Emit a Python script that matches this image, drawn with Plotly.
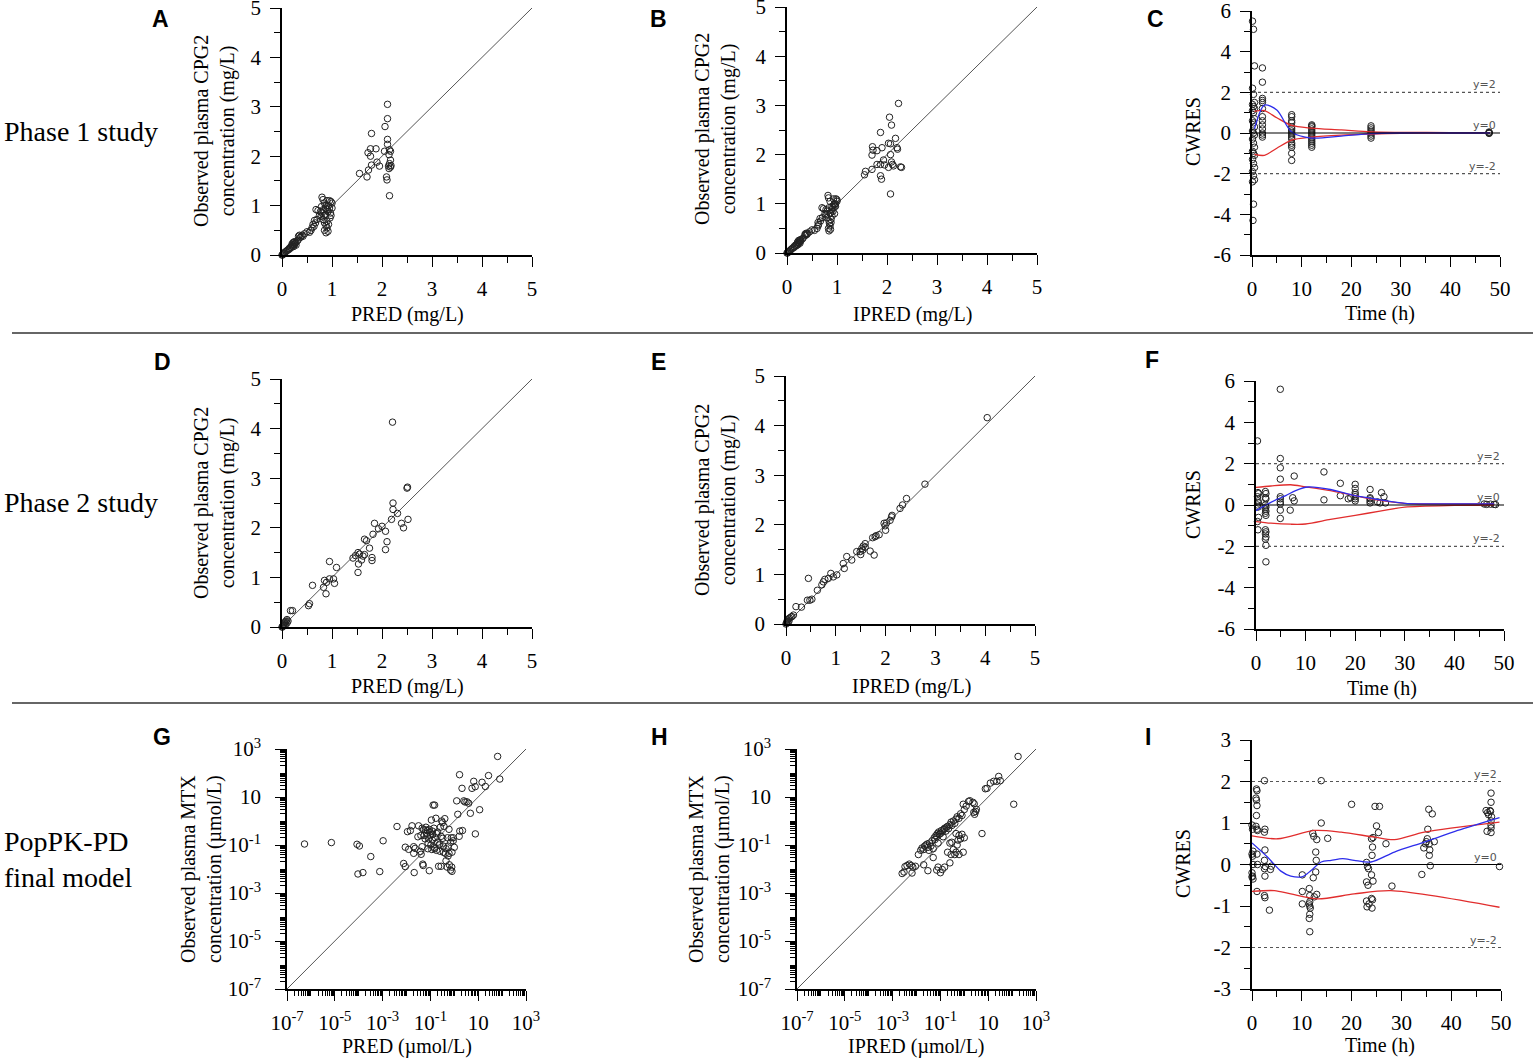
import plotly.graph_objects as go

W, H = 1535, 1062

# ---------------- DATA ----------------
# Panel A: Phase 1, PRED vs observed CPG2 (mg/L)
pred_A = [0.0,0.01,0.02,0.03,0.04,0.05,0.06,0.08,0.1,0.12,0.14,0.15,0.17,0.18,0.2,0.2,0.21,0.22,0.23,0.24,0.25,0.25,0.26,0.27,0.28,0.3,0.32,0.33,0.35,0.36,0.38,0.4,0.42,0.45,0.5,0.55,0.58,0.6,
          0.62,0.64,0.65,0.67,0.68,0.7,0.72,0.75,0.77,0.78,0.8,0.8,0.82,0.82,0.83,0.85,0.85,0.85,0.87,0.87,0.88,0.88,0.88,0.9,0.9,0.9,0.92,0.92,0.93,0.93,0.95,0.95,0.96,0.97,0.98,0.98,1.0,1.0,0.79,0.84,0.91,
          2.11,2.11,2.06,1.79,2.11,1.77,1.88,2.11,2.15,2.17,1.72,1.77,2.05,2.14,1.9,1.95,1.79,1.73,1.55,1.7,2.09,2.1,2.15,2.17,2.14,2.18,2.13,2.15,2.17]
obs_A = [0.0,0.0,0.02,0.02,0.04,0.03,0.06,0.07,0.09,0.1,0.13,0.12,0.16,0.15,0.22,0.18,0.2,0.25,0.17,0.26,0.21,0.27,0.23,0.25,0.2,0.28,0.3,0.38,0.4,0.35,0.37,0.4,0.38,0.43,0.47,0.46,0.5,0.55,
         0.62,0.58,0.7,0.65,0.92,0.72,0.9,0.8,0.88,0.78,1.17,0.85,1.12,0.72,0.92,1.05,0.65,0.5,0.82,0.95,0.6,0.45,1.0,1.1,0.55,0.68,0.88,0.48,1.0,0.62,1.1,0.95,0.75,0.85,0.8,1.08,1.05,0.95,0.98,0.8,0.92,
         3.05,2.76,2.6,2.46,2.34,2.15,2.15,2.24,2.13,2.1,2.07,2.0,2.1,2.03,1.88,1.8,1.82,1.72,1.65,1.58,1.58,1.52,1.85,1.78,1.75,1.81,1.8,1.2,1.92]

# Panel B: Phase 1, IPRED vs observed
ipred_B = [0.0,0.01,0.02,0.03,0.05,0.05,0.07,0.08,0.1,0.12,0.14,0.15,0.17,0.19,0.21,0.2,0.22,0.23,0.22,0.25,0.24,0.27,0.26,0.27,0.26,0.3,0.32,0.36,0.38,0.36,0.38,0.41,0.4,0.45,0.5,0.55,0.6,0.62,
           0.62,0.63,0.66,0.67,0.7,0.71,0.73,0.76,0.78,0.78,0.82,0.8,0.83,0.8,0.84,0.86,0.84,0.83,0.87,0.9,0.85,0.84,0.95,0.93,0.86,0.88,0.9,0.87,0.97,0.88,0.98,0.96,0.9,0.92,0.95,1.0,1.0,0.97,0.94,0.86,0.92,
           2.23,2.05,2.09,1.87,2.17,2.03,2.07,1.71,1.72,1.9,1.8,2.2,2.21,1.7,2.07,1.93,1.8,1.87,1.95,2.03,2.09,2.11,2.13,2.27,2.29,1.7,1.57,1.55,1.87,1.89,2.07]
obs_B = [0.0,0.0,0.02,0.02,0.04,0.03,0.06,0.07,0.09,0.1,0.13,0.12,0.16,0.15,0.22,0.18,0.2,0.25,0.17,0.26,0.21,0.27,0.23,0.25,0.2,0.28,0.3,0.38,0.4,0.35,0.37,0.4,0.38,0.43,0.47,0.46,0.5,0.55,
         0.62,0.58,0.7,0.65,0.92,0.72,0.9,0.8,0.88,0.78,1.17,0.85,1.12,0.72,0.92,1.05,0.65,0.5,0.82,0.95,0.6,0.45,1.0,1.1,0.55,0.68,0.88,0.48,1.0,0.62,1.1,0.95,0.75,0.85,0.8,1.08,1.05,0.95,0.98,0.8,0.92,
         3.04,2.76,2.6,2.45,2.33,2.23,2.22,2.16,2.09,2.14,2.08,2.14,2.11,1.99,2.0,1.89,1.8,1.8,1.79,1.74,1.85,1.8,1.77,1.75,1.74,1.7,1.66,1.59,1.57,1.5,1.2]

# Panel C: Phase 1, CWRES vs time
time_C = [0.1,0.3,0.5,0.1,0.3,0.5,0.1,0.3,0.5,0.1,0.3,0.5,0.1,0.3,0.5,0.1,0.3,0.5,0.1,0.3,0.5,0.1,0.3,0.5,0.1,0.3,0.5,0.1,0.3,0.5,0.1,0.3,0.2,
          2.1,2.1,2.1,2.1,2.1,2.1,2.1,2.1,2.1,2.1,2.1,2.1,2.1,
          8.0,8.0,8.0,8.0,8.0,8.0,8.0,8.0,8.0,8.0,8.0,8.0,8.0,8.0,8.0,8.0,
          12.05,12.05,12.05,12.05,12.05,12.05,12.05,12.05,12.05,12.05,12.05,12.05,12.05,
          24.0,24.0,24.0,24.0,24.0,24.0,24.0,
          47.8,47.8,47.8,47.8]
cwres_C = [5.5,5.1,3.3,2.2,1.9,1.5,1.4,1.3,1.2,1.1,1.0,0.7,0.6,0.5,0.3,0.1,0.0,-0.1,-0.3,-0.5,-0.7,-0.9,-1.0,-1.1,-1.3,-1.5,-1.7,-1.9,-2.1,-2.3,-2.4,-3.5,-4.3,
           3.2,2.5,1.7,1.6,1.5,1.2,0.8,0.6,0.4,0.2,0.0,-0.1,-0.2,
           0.9,0.8,0.6,0.5,0.3,0.2,0.1,0.0,-0.1,-0.2,-0.3,-0.5,-0.6,-0.7,-1.0,-1.35,
           0.4,0.35,0.3,0.2,0.1,0.0,-0.1,-0.2,-0.3,-0.4,-0.5,-0.6,-0.7,
           0.35,0.25,0.15,0.05,-0.05,-0.15,-0.25,
           0.05,0.0,-0.02,0.02]
trend_t_C = [0.5, 2.5, 5, 8, 12, 18, 24, 30, 40, 48]
trend_C = [0.2, 1.37, 1.13, 0.05, -0.25, -0.15, -0.03, 0.0, 0.0, 0.0]
upper_C = [1.06, 1.1, 0.75, 0.37, 0.24, 0.15, 0.05, 0.03, 0.02, 0.02]
lower_C = [-1.05, -1.1, -0.75, -0.35, -0.2, -0.1, -0.05, -0.02, 0.0, 0.0]

# Panel D: Phase 2, PRED vs observed
pred_D = [2.21,2.5,2.51,2.22,2.22,2.31,2.19,2.52,2.39,2.43,1.85,1.82,2.0,1.93,2.07,2.1,2.07,1.65,1.69,1.75,1.65,1.62,1.8,1.8,1.52,1.55,1.47,1.42,1.53,1.52,1.59,
          0.95,1.09,0.95,1.03,1.05,0.85,0.89,0.83,0.88,0.61,0.55,0.53,0.17,0.21,
          0.0,0.01,0.02,0.03,0.04,0.05,0.06,0.07,0.08,0.1,0.1,0.12]
obs_D = [4.13,2.8,2.82,2.5,2.37,2.29,2.17,2.17,2.09,2.0,2.09,1.87,2.03,1.98,1.93,1.72,1.56,1.77,1.74,1.59,1.46,1.43,1.4,1.34,1.5,1.47,1.44,1.39,1.27,1.1,1.35,
         1.32,1.2,0.97,0.97,0.88,0.94,0.9,0.8,0.67,0.84,0.47,0.43,0.33,0.33,
         0.0,0.0,0.02,0.05,0.03,0.08,0.1,0.05,0.12,0.15,0.08,0.12]

# Panel E: Phase 2, IPRED vs observed
ipred_E = [4.04,2.79,2.42,2.34,2.29,2.13,2.12,2.09,1.97,2.02,1.99,2.0,1.87,1.81,1.74,1.79,1.69,1.77,1.59,1.55,1.52,1.49,1.5,1.59,1.54,1.42,1.32,1.22,1.15,1.17,
           1.02,0.95,0.9,0.85,0.78,0.75,0.72,0.63,0.43,0.48,0.52,0.45,0.2,0.31,
           0.0,0.01,0.02,0.03,0.05,0.07,0.1,0.12,0.15,0.04,0.06]
obs_E = [4.16,2.82,2.53,2.4,2.33,2.19,2.16,2.09,2.03,2.04,1.98,1.89,1.8,1.78,1.74,1.76,1.47,1.39,1.62,1.57,1.52,1.46,1.4,1.55,1.49,1.46,1.29,1.36,1.22,1.12,
         0.99,0.95,1.02,0.92,0.9,0.85,0.79,0.68,0.48,0.48,0.5,0.92,0.35,0.34,
         0.0,0.02,0.05,0.08,0.1,0.12,0.14,0.15,0.18,0.03,0.06]

# Panel F: Phase 2, CWRES vs time
time_F = [0.3,0.4,0.5,0.3,0.4,0.5,0.3,0.4,0.5,0.3,0.4,
          1.9,2.0,1.9,2.0,1.9,2.0,1.9,2.0,1.9,2.0,1.9,2.0,1.9,2.0,1.9,2.0,2.0,
          4.9,4.9,4.9,4.9,4.9,4.9,4.9,4.9,4.9,4.9,
          6.9,7.4,7.7,7.7,13.7,13.7,17.0,17.0,18.6,19.1,
          20.0,20.0,20.0,20.0,20.0,20.0,20.0,
          23.0,23.0,23.0,23.0,23.0,
          24.5,25.0,25.3,25.8,26.1,
          46.0,46.5,47.3,48.0,48.3]
cwres_F = [3.1,0.6,0.55,0.4,0.2,0.1,0.0,-0.1,-0.6,-0.8,-1.2,
           0.65,0.55,0.35,0.3,0.0,-0.1,-0.2,-0.3,-0.4,-0.5,-1.2,-1.3,-1.4,-1.55,-1.65,-1.95,-2.75,
           5.6,2.25,1.8,1.25,0.4,0.3,0.15,0.05,-0.25,-0.65,
           -0.25,0.35,0.2,1.4,1.6,0.25,1.05,0.45,0.3,0.35,
           1.0,0.8,0.6,0.5,0.4,0.3,0.2,
           0.75,0.35,0.3,0.2,0.1,
           0.15,0.1,0.6,0.4,0.1,
           0.05,0.03,0.04,0.03,0.02]
trend_t_F = [0, 2, 4, 6, 8, 10.5, 15, 20, 25, 30, 40, 48]
trend_F = [-0.27, 0.0, 0.25, 0.45, 0.7, 0.87, 0.75, 0.45, 0.25, 0.08, 0.05, 0.05]
band_t_F = [0, 3, 7, 10, 15, 20, 25, 30, 40, 48]
upper_F = [0.85, 0.92, 0.98, 0.88, 0.7, 0.45, 0.22, 0.08, 0.05, 0.05]
lower_F = [-0.8, -0.88, -0.93, -0.92, -0.7, -0.5, -0.3, -0.1, -0.02, 0.0]

# Panel G: PopPK-PD, PRED vs observed MTX (umol/L)
pred_G = [5.4e-7,7.2e-6,8.5e-5,1.07e-4,9.3e-5,1.5e-4,3.2e-4,7.6e-4,1.05e-3,4.0e-3,7.6e-3,8.9e-3,8.9e-3,1.23e-2,1.1e-2,1.45e-2,1.7e-2,2.0e-2,2.3e-2,2.1e-2,
          3.2e-2,3.8e-2,4.1e-2,4.5e-2,4.5e-2,4.8e-2,5.0e-2,5.2e-2,6.2e-2,6.5e-2,7e-2,7.5e-2,7.8e-2,8e-2,8.5e-2,9e-2,9.5e-2,0.1,0.105,0.11,
          0.115,0.12,0.125,0.13,0.145,0.15,0.16,0.17,0.18,0.2,0.22,0.23,0.25,0.26,0.28,0.3,0.32,0.33,0.35,0.37,
          0.4,0.42,0.45,0.5,0.52,0.55,0.6,0.62,0.7,0.75,0.78,0.8,0.9,1.0,1.26,1.4,1.6,1.7,2.2,1.66,
          2.1,2.5,2.8,3.4,4.0,4.7,5.5,6.5,7.5,7.6,11.5,14.5,20,27,65,80,
          0.28,0.2,0.14,0.06,0.04,0.09,0.12,0.18,0.25,0.35,0.45,0.55,0.7,0.9,0.02,0.03,0.055,0.075,0.15,0.6,0.8]
obs_G = [0.11,0.126,0.107,0.091,0.0062,0.0071,0.033,0.0078,0.15,0.59,0.017,0.0126,0.081,0.066,0.36,0.40,0.63,0.045,0.072,0.0071,
         0.63,0.054,0.041,0.085,0.5,0.016,0.014,0.43,0.43,0.55,0.3,0.24,0.07,0.12,0.18,0.0085,0.35,0.25,0.1,1.1,
         0.065,0.16,0.28,4.6,0.08,4.6,0.2,1.3,0.06,0.13,0.013,0.1,0.055,0.55,0.013,1.0,0.85,0.19,0.05,0.6,
         1.25,0.045,0.022,0.012,0.2,0.035,0.45,0.015,0.009,0.2,0.012,0.008,0.2,0.08,6.9,1.9,0.23,0.38,0.4,85,
         23,6.9,6.2,6.3,5.5,2.1,23,45,27,0.29,2.95,41,27.5,78,490,56,
         0.23,0.35,0.5,0.18,0.25,0.45,0.38,0.3,0.11,0.09,0.07,0.09,0.13,0.15,0.085,0.22,0.25,0.4,0.07,0.045,0.05]

# Panel H: PopPK-PD, IPRED vs observed MTX
ipred_H = [2.5e-3,3e-3,4e-3,5e-3,6e-3,6.5e-3,7e-3,9e-3,1.2e-2,1.5e-2,1.7e-2,2e-2,2.2e-2,2.5e-2,2.8e-2,3e-2,3.3e-2,3.5e-2,4e-2,4.5e-2,
           5e-2,5.5e-2,6e-2,6.5e-2,7e-2,7.5e-2,8e-2,8.5e-2,9e-2,0.1,0.11,0.12,0.13,0.14,0.15,0.17,0.18,0.2,0.22,0.25,
           0.28,0.3,0.35,0.4,0.45,0.5,0.6,0.7,0.8,0.9,1.0,1.2,1.5,1.7,2.5,2.7,3.3e-3,
           0.02,0.03,0.05,0.07,0.08,0.1,0.12,0.15,0.2,0.25,0.28,0.3,0.35,0.4,0.45,0.5,0.55,0.6,0.7,0.8,0.9,0.6,1.0,0.45,0.25,
           5.5,3.0,3.2,2.3,2.6,7.6,8.9,12.3,17,23,27.5,32,117,178]
obs_H = [0.0065,0.0075,0.014,0.016,0.014,0.0068,0.012,0.013,0.04,0.06,0.075,0.065,0.09,0.1,0.11,0.08,0.06,0.12,0.09,0.15,
         0.07,0.2,0.17,0.25,0.22,0.3,0.12,0.35,0.28,0.3,0.4,0.35,0.22,0.45,0.5,0.38,0.55,0.6,0.48,0.7,
         0.9,0.65,1.0,0.8,1.2,1.5,1.3,2.0,1.7,5.0,3.0,4.2,6.5,7.0,2.3,1.9,0.0125,
         0.015,0.0085,0.03,0.009,0.012,0.007,0.0095,0.012,0.05,0.018,0.04,0.13,0.065,0.04,0.05,0.1,0.16,0.04,0.18,0.28,0.05,0.25,0.2,0.3,0.12,
         0.3,2.5,3.1,6.0,5.2,22,23,38,45,45,72,48,5.0,490]

# Panel I: PopPK-PD, CWRES vs time
time_I = [0.0,0.1,0.2,0.0,0.1,0.2,0.0,0.1,0.2,0.0,
          0.9,1.0,0.8,0.9,1.0,0.9,0.8,1.0,1.1,1.0,1.1,1.0,
          2.5,2.6,2.5,2.6,2.5,2.7,2.5,2.6,2.5,2.6,
          3.7,3.5,3.9,10.1,10.1,10.1,
          11.5,11.6,11.6,11.5,11.6,11.7,11.6,11.5,11.6,
          12.2,12.4,12.3,12.5,13.0,12.8,12.9,12.8,13.0,
          13.9,13.9,15.2,20.0,
          23.0,23.2,23.4,23.0,23.3,23.0,23.5,23.1,
          24.0,24.2,24.1,24.0,24.3,24.0,24.2,24.1,24.3,
          24.7,25.6,25.0,25.4,26.9,28.1,34.1,
          34.5,34.8,35.0,35.2,35.3,35.5,35.6,35.7,35.6,35.8,36.2,36.6,
          47.0,47.3,47.5,47.8,48.0,48.0,47.9,48.1,48.0,48.0,48.0,47.2,48.0,49.7]
cwres_I = [0.95,0.85,0.32,0.25,0.2,0.0,-0.2,-0.28,-0.35,-0.3,
           1.82,1.78,1.6,1.55,1.42,1.18,0.92,0.85,0.82,0.25,0.0,-0.65,
           2.02,0.85,0.78,0.35,0.1,-0.05,-0.1,-0.28,-0.75,-0.8,
           -0.12,-1.1,-0.04,-0.25,-0.65,-0.95,
           -0.58,-0.75,-0.9,-0.95,-1.0,-1.05,-1.2,-1.3,-1.62,
           0.75,0.68,-0.32,-0.78,0.6,0.3,0.1,-0.18,-0.72,
           2.02,1.0,0.63,1.45,
           0.05,-0.05,-0.1,-0.42,-0.5,-0.88,-0.95,-1.02,
           0.62,0.42,0.22,-0.25,-0.4,-0.82,-0.85,-1.05,0.65,
           1.4,1.4,0.93,0.77,0.5,-0.52,-0.24,
           0.4,0.5,0.55,0.62,0.85,1.33,0.5,0.35,0.22,-0.03,1.22,0.55,
           1.3,1.25,1.2,1.3,1.72,1.5,1.28,1.15,1.05,0.95,0.88,0.8,0.77,-0.05]
trend_t_I = [0, 3.1, 5.8, 7.8, 10.2, 11.8, 13.9, 15.9, 18.2, 20.5, 23.9, 28.6, 34.6, 41.3, 49.7]
trend_I = [0.52, 0.18, -0.16, -0.28, -0.29, -0.15, 0.06, 0.1, 0.14, 0.1, 0.06, 0.3, 0.54, 0.82, 1.13]
band_t_I = [0, 5.2, 12.5, 17.9, 24.6, 28.6, 34.6, 49.7]
upper_I = [0.69, 0.62, 0.82, 0.78, 0.66, 0.6, 0.78, 1.02]
band_t_I2 = [0, 4.5, 7.8, 13.2, 20.5, 27.9, 49.7]
lower_I = [-0.65, -0.63, -0.71, -0.83, -0.71, -0.63, -1.03]

identity_lin = [0, 5]
identity_log = [1e-7, 1e3]

row_labels = ["Phase 1 study", "Phase 2 study", "PopPK-PD<br>final model"]
panel_letters = ["A", "B", "C", "D", "E", "F", "G", "H", "I"]
log_tickvals = [1e-7, 1e-5, 1e-3, 1e-1, 10, 1000]
log_ticktext = ["10<sup>-7</sup>", "10<sup>-5</sup>", "10<sup>-3</sup>", "10<sup>-1</sup>", "10", "10<sup>3</sup>"]
cw6_tickvals = [-6, -4, -2, 0, 2, 4, 6]
cw6_ticktext = ["-6", "-4", "-2", "0", "2", "4", "6"]
cw3_tickvals = [-3, -2, -1, 0, 1, 2, 3]
cw3_ticktext = ["-3", "-2", "-1", "0", "1", "2", "3"]

# ---------------- LAYOUT GEOMETRY (pixels) ----------------
# (left, right, top, bottom)
boxes = {
    1: (282, 532, 8, 255),
    2: (787, 1037, 7, 253),
    3: (1252, 1500, 11, 255),
    4: (282, 532, 379, 627),
    5: (786, 1035, 376, 624),
    6: (1256, 1504, 381, 629),
    7: (287, 526, 749, 989),
    8: (797, 1036, 749, 989),
    9: (1252, 1501, 740, 989),
}

SERIF = "Liberation Serif, Times New Roman, serif"
SANS = "Liberation Sans, Arial, sans-serif"
TICKFONT = dict(family=SERIF, size=21, color="black")

fig = go.Figure()
layout = dict(width=W, height=H, margin=dict(l=0, r=0, t=0, b=0, pad=0), autosize=False,
              paper_bgcolor="white", plot_bgcolor="white", showlegend=False, template="none")

def px_x(p):
    return p / W

def px_y(p):
    return 1 - p / H

minor_log = [m * 10.0 ** e for e in range(-7, 3) for m in range(1, 10)
             if not (m == 1 and e % 2 != 0)]

def axis_common():
    return dict(showline=True, linecolor="black", linewidth=1.5, ticks="outside",
                ticklen=10, tickwidth=1.3, tickcolor="black", showgrid=False,
                zeroline=False, tickfont=TICKFONT, automargin=False,
                ticklabeloverflow="allow")

kinds = {1: "lin", 2: "lin", 3: "cw6", 4: "lin", 5: "lin", 6: "cw6", 7: "log", 8: "log", 9: "cw3"}

for i, (l, r, t, b) in boxes.items():
    xa = axis_common()
    ya = axis_common()
    xa["domain"] = [px_x(l), px_x(r)]
    ya["domain"] = [px_y(b), px_y(t)]
    xa["anchor"] = "y%d" % i if i > 1 else "y"
    ya["anchor"] = "x%d" % i if i > 1 else "x"
    xa["ticklabelstandoff"] = 4
    ya["ticklabelstandoff"] = 5
    k = kinds[i]
    if k == "lin":
        xa.update(range=[0, 5], dtick=1, tick0=0)
        ya.update(range=[0, 5], dtick=1, tick0=0)
        mn = dict(ticks="outside", ticklen=6, tickwidth=1.2, tickcolor="black", dtick=0.5, showgrid=False)
        xa["minor"] = mn
        ya["minor"] = mn
    elif k in ("cw6", "cw3"):
        xa.update(range=[0, 50], dtick=10, tick0=0)
        xa["minor"] = dict(ticks="outside", ticklen=6, tickwidth=1.2, tickcolor="black", dtick=5, showgrid=False)
        if k == "cw6":
            ya.update(range=[-6, 6], tickmode="array", tickvals=cw6_tickvals, ticktext=cw6_ticktext)
            ya["minor"] = dict(ticks="outside", ticklen=6, tickwidth=1.2, tickcolor="black", dtick=1, tick0=0, showgrid=False)
        else:
            ya.update(range=[-3, 3], tickmode="array", tickvals=cw3_tickvals, ticktext=cw3_ticktext)
            ya["minor"] = dict(ticks="outside", ticklen=6, tickwidth=1.2, tickcolor="black", dtick=0.5, tick0=0, showgrid=False)
    else:
        for a in (xa, ya):
            a.update(type="log", range=[-7, 3], tickmode="array", tickvals=log_tickvals,
                     ticktext=log_ticktext, ticklen=10)
            a["minor"] = dict(ticks="outside", ticklen=5, tickwidth=0.8, tickcolor="black",
                              tickmode="array", tickvals=minor_log, showgrid=False)
        ya["ticklabelstandoff"] = 10
    layout["xaxis" if i == 1 else "xaxis%d" % i] = xa
    layout["yaxis" if i == 1 else "yaxis%d" % i] = ya

def xref(i):
    return "x" if i == 1 else "x%d" % i

def yref(i):
    return "y" if i == 1 else "y%d" % i

MK = dict(symbol="circle-open", size=6.5, color="#222222", line=dict(width=1))

def scatter(i, xs, ys):
    fig.add_trace(go.Scatter(x=xs, y=ys, mode="markers", marker=MK, cliponaxis=False,
                             xaxis=xref(i), yaxis=yref(i), hoverinfo="skip"))

def ident(i, vals):
    fig.add_trace(go.Scatter(x=vals, y=vals, mode="lines", line=dict(color="#555555", width=1),
                             xaxis=xref(i), yaxis=yref(i), hoverinfo="skip"))

def curve(i, xs, ys, color):
    fig.add_trace(go.Scatter(x=xs, y=ys, mode="lines", line=dict(color=color, width=1.3, shape="spline", smoothing=0.8),
                             xaxis=xref(i), yaxis=yref(i), hoverinfo="skip"))

BLUE = "rgb(45,45,235)"
RED = "rgb(225,45,45)"

# identity lines then points
ident(1, identity_lin); scatter(1, pred_A, obs_A)
ident(2, identity_lin); scatter(2, ipred_B, obs_B)
ident(4, identity_lin); scatter(4, pred_D, obs_D)
ident(5, identity_lin); scatter(5, ipred_E, obs_E)
ident(7, identity_log); scatter(7, pred_G, obs_G)
ident(8, identity_log); scatter(8, ipred_H, obs_H)

shapes = []
annotations = []

def ref_lines(i, ylev):
    dom = xref(i) + " domain"
    for yv in ylev:
        shapes.append(dict(type="line", xref=dom, yref=yref(i), x0=0, x1=1, y0=yv, y1=yv,
                           line=dict(color="#555555", width=1.2, dash="dot")))
    shapes.append(dict(type="line", xref=dom, yref=yref(i), x0=0, x1=1, y0=0, y1=0,
                       line=dict(color="black", width=1.2)))
    for yv, txt in ((ylev[0], "y=2"), (0, "y=0"), (ylev[1], "y=-2")):
        annotations.append(dict(xref=dom, yref=yref(i), x=0.99, y=yv, text=txt, showarrow=False,
                                xanchor="right", yanchor="bottom", yshift=-1,
                                font=dict(family="DejaVu Sans, sans-serif", size=11, color="#555555")))

# CWRES panels
ref_lines(3, [2, -2])
scatter(3, time_C, cwres_C)
curve(3, trend_t_C, upper_C, RED)
curve(3, trend_t_C, lower_C, RED)
curve(3, trend_t_C, trend_C, BLUE)

ref_lines(6, [2, -2])
scatter(6, time_F, cwres_F)
curve(6, band_t_F, upper_F, RED)
curve(6, band_t_F, lower_F, RED)
curve(6, trend_t_F, trend_F, BLUE)

ref_lines(9, [2, -2])
scatter(9, time_I, cwres_I)
curve(9, band_t_I, upper_I, RED)
curve(9, band_t_I2, lower_I, RED)
curve(9, trend_t_I, trend_I, BLUE)

# ---------------- TEXT ----------------
def txt(x, y, s, size=20, family=SERIF, angle=0, xanchor="center", yanchor="middle", align="center"):
    annotations.append(dict(xref="paper", yref="paper", x=px_x(x), y=px_y(y), text=s, showarrow=False,
                            textangle=angle, xanchor=xanchor, yanchor=yanchor, align=align,
                            font=dict(family=family, size=size, color="black")))

ytitle_cpg = "Observed plasma CPG2<br>concentration (mg/L)"
ytitle_mtx = "Observed plasma MTX<br>concentration (µmol/L)"

txt(215, 131, ytitle_cpg, angle=-90)
txt(715, 129, ytitle_cpg, angle=-90)
txt(1193, 132, "CWRES", angle=-90)
txt(215, 503, ytitle_cpg, angle=-90)
txt(715, 500, ytitle_cpg, angle=-90)
txt(1193, 505, "CWRES", angle=-90)
txt(201, 869, ytitle_mtx, angle=-90)
txt(709, 869, ytitle_mtx, angle=-90)
txt(1183, 864, "CWRES", angle=-90)

txt(407, 314, "PRED (mg/L)")
txt(912, 314, "IPRED (mg/L)")
txt(1380, 313, "Time (h)")
txt(407, 686, "PRED (mg/L)")
txt(911, 686, "IPRED (mg/L)")
txt(1382, 688, "Time (h)")
txt(407, 1046, "PRED (µmol/L)")
txt(916, 1046, "IPRED (µmol/L)")
txt(1380, 1045, "Time (h)")

letter_pos = [(160, 19), (658, 19), (1155, 19), (162, 362), (658, 362), (1152, 360), (162, 737), (659, 737), (1148, 737)]
for s, (x, y) in zip(panel_letters, letter_pos):
    txt(x, y, "<b>%s</b>" % s, size=23, family=SANS)

txt(2, 132, row_labels[0], size=28, xanchor="left")
txt(2, 502, row_labels[1], size=28, xanchor="left")
txt(2, 859, row_labels[2], size=28, xanchor="left", align="left")

for yy in (333, 703):
    shapes.append(dict(type="line", xref="paper", yref="paper", x0=px_x(12), x1=px_x(1533),
                       y0=px_y(yy), y1=px_y(yy), line=dict(color="#333333", width=1.5)))

layout["shapes"] = shapes
layout["annotations"] = annotations
fig.update_layout(**layout)
fig.write_html("out.html", config={"displayModeBar": False},
               post_script="document.body.style.margin='0px';")
